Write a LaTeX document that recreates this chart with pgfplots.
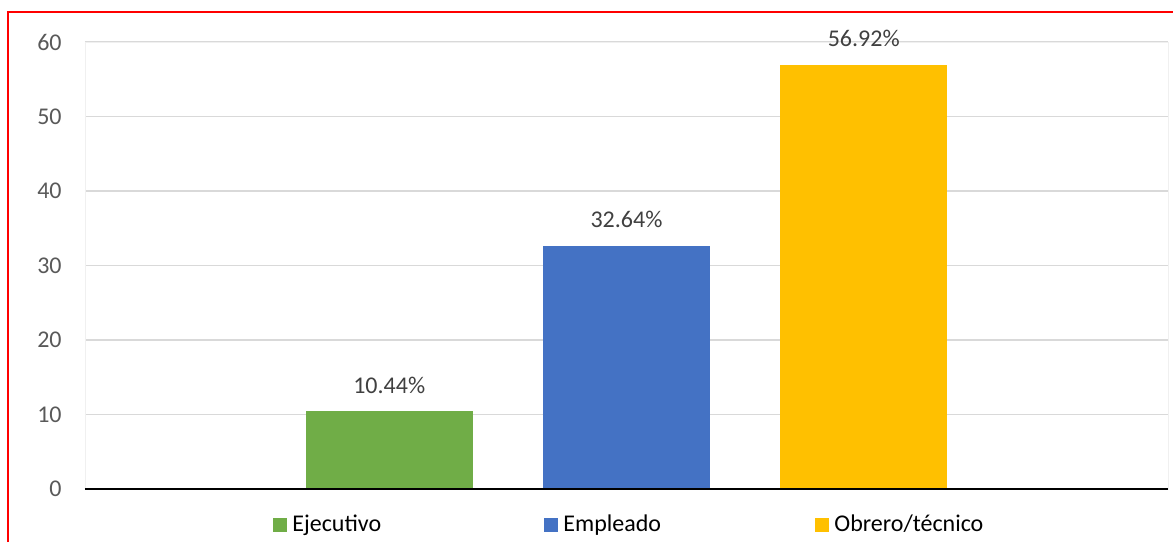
\documentclass[border=0pt]{standalone}
\usepackage{pgfplots}
\pgfplotsset{compat=1.18}
\usepackage{fontspec}
\setmainfont{Carlito}

\definecolor{ejec}{HTML}{70AD47}
\definecolor{empl}{HTML}{4472C4}
\definecolor{obre}{HTML}{FFC000}
\definecolor{gridc}{HTML}{D9D9D9}
\definecolor{tickc}{HTML}{595959}
\definecolor{labc}{HTML}{404040}

\begin{document}
\begin{tikzpicture}
\begin{axis}[
    at={(0,0)}, anchor=south west,
    scale only axis,
    width=541.5pt, height=223.5pt,
    xmin=-2.2824, xmax=2.2824,
    ymin=0, ymax=60,
    ytick={0,10,...,60},
    xtick=\empty,
    major tick length=0pt,
    ymajorgrids,
    grid style={gridc, line width=0.6pt},
    axis line style={draw=black!6},
    /pgf/number format/assume math mode=true,
    tick label style={font=\fontsize{12}{14}\selectfont, text=tickc},
    yticklabel style={inner sep=0pt, xshift=-11.5pt},
    legend columns=3,
    legend style={at={(0.1736,-0.0795)}, anchor=west, draw=none, inner sep=0pt,
        font=\fontsize{12}{14}\selectfont,
        nodes={inner sep=1pt}},
    legend image code/.code={\fill[#1] (0pt,-3.5pt) rectangle (7pt,3.5pt);},
    every node near coord/.append style={font=\fontsize{12}{14}\selectfont, text=labc, anchor=base, inner sep=0pt, yshift=9pt},
    nodes near coords={\pgfmathprintnumber[fixed,zerofill,precision=2]{\pgfplotspointmeta}\%},
    point meta=y,
]
\addplot[ybar, bar shift=0pt, bar width=0.704, fill=ejec, draw=none] coordinates {(-1,10.44)};
\addlegendentry{\makebox[126.5pt][l]{\hspace{1.5pt}Ejecutivo}}
\addplot[ybar, bar shift=0pt, bar width=0.704, fill=empl, draw=none] coordinates {(0,32.64)};
\addlegendentry{\makebox[126.5pt][l]{\hspace{1.5pt}Empleado}}
\addplot[ybar, bar shift=0pt, bar width=0.704, fill=obre, draw=none] coordinates {(1,56.92)};
\addlegendentry{\makebox[100pt][l]{\hspace{1.5pt}Obrero/técnico}}
\draw[black, line width=1pt] (rel axis cs:0,0) -- (rel axis cs:1,0);
\end{axis}
\pgfresetboundingbox
\useasboundingbox (-42.5pt,-26.5pt) rectangle (544pt,244.5pt);
\draw[red, line width=1pt] (-38.5pt,-26.5pt) -- (-38.5pt,238.5pt) -- (544pt,238.5pt);
\end{tikzpicture}
\end{document}
